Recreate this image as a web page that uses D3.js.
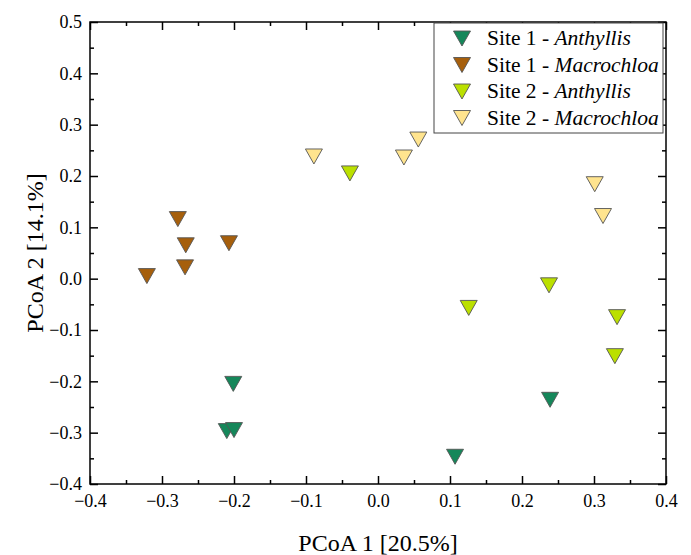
<!DOCTYPE html>
<html><head><meta charset="utf-8">
<script src="https://cdn.jsdelivr.net/npm/d3@7"></script>
<style>html,body{margin:0;padding:0;background:#fff;}svg{display:block;}</style>
</head><body>
<svg id="chart" width="691" height="555"></svg>
<script>
const groups = ["Site 1 - |Anthyllis", "Site 1 - |Macrochloa", "Site 2 - |Anthyllis", "Site 2 - |Macrochloa"];
const colors = ["#15875a", "#a65f0c", "#bbe000", "#ffe48e"];
const site1AnthyllisX = [-0.201, -0.210, -0.200, 0.107, 0.239];
const site1AnthyllisY = [-0.204, -0.296, -0.294, -0.346, -0.235];
const site1MacrochloaX = [-0.321, -0.278, -0.267, -0.268, -0.207];
const site1MacrochloaY = [0.006, 0.117, 0.066, 0.023, 0.070];
const site2AnthyllisX = [-0.039, 0.126, 0.2375, 0.332, 0.329];
const site2AnthyllisY = [0.206, -0.056, -0.012, -0.074, -0.150];
const site2MacrochloaX = [-0.089, 0.036, 0.056, 0.301, 0.3125];
const site2MacrochloaY = [0.239, 0.237, 0.272, 0.185, 0.123];
const xTicks = [-0.4, -0.3, -0.2, -0.1, 0.0, 0.1, 0.2, 0.3, 0.4];
const yTicks = [-0.4, -0.3, -0.2, -0.1, 0.0, 0.1, 0.2, 0.3, 0.4, 0.5];
const xTitle = "PCoA 1 [20.5%]";
const yTitle = "PCoA 2 [14.1%]";

const seriesX = [site1AnthyllisX, site1MacrochloaX, site2AnthyllisX, site2MacrochloaX];
const seriesY = [site1AnthyllisY, site1MacrochloaY, site2AnthyllisY, site2MacrochloaY];

const L = 90, R = 666, T = 22, B = 484;
const svg = d3.select("#chart");
const x = d3.scaleLinear().domain([-0.4, 0.4]).range([L, R]);
const y = d3.scaleLinear().domain([-0.4, 0.5]).range([B, T]);
const font = "'Liberation Serif','Times New Roman',serif";

const minorX = d3.range(-0.35, 0.4, 0.1);
const minorY = d3.range(-0.35, 0.5, 0.1);

function styleAxis(g){
  g.select(".domain").remove();
  g.selectAll(".tick line").attr("stroke", "#000").attr("stroke-width", 1.5);
  g.selectAll("text").attr("font-family", font).attr("font-size", 18).attr("fill", "#000");
}
// bottom
svg.append("g").attr("transform", `translate(0,${B})`)
  .call(d3.axisBottom(x).tickValues(xTicks).tickSize(-8).tickPadding(10).tickFormat(d3.format(".1f")))
  .call(styleAxis);
svg.append("g").attr("transform", `translate(0,${B})`)
  .call(d3.axisBottom(x).tickValues(minorX).tickSize(-4).tickFormat(""))
  .call(styleAxis);
// top
svg.append("g").attr("transform", `translate(0,${T})`)
  .call(d3.axisTop(x).tickValues(xTicks).tickSize(-8).tickFormat(""))
  .call(styleAxis);
svg.append("g").attr("transform", `translate(0,${T})`)
  .call(d3.axisTop(x).tickValues(minorX).tickSize(-4).tickFormat(""))
  .call(styleAxis);
// left
svg.append("g").attr("transform", `translate(${L},0)`)
  .call(d3.axisLeft(y).tickValues(yTicks).tickSize(-8).tickPadding(8).tickFormat(d3.format(".1f")))
  .call(styleAxis);
svg.append("g").attr("transform", `translate(${L},0)`)
  .call(d3.axisLeft(y).tickValues(minorY).tickSize(-4).tickFormat(""))
  .call(styleAxis);
// right
svg.append("g").attr("transform", `translate(${R},0)`)
  .call(d3.axisRight(y).tickValues(yTicks).tickSize(-8).tickFormat(""))
  .call(styleAxis);
svg.append("g").attr("transform", `translate(${R},0)`)
  .call(d3.axisRight(y).tickValues(minorY).tickSize(-4).tickFormat(""))
  .call(styleAxis);

// frame
svg.append("rect").attr("x", L).attr("y", T).attr("width", R - L).attr("height", B - T)
  .attr("fill", "none").attr("stroke", "#000").attr("stroke-width", 1.5);

const tri = "M-8.5,-7L8.5,-7L0,8Z";

// points
seriesX.forEach((xs, i) => {
  const ys = seriesY[i];
  svg.append("g").selectAll("path").data(xs.map((v, j) => [v, ys[j]])).join("path")
    .attr("d", tri)
    .attr("transform", d => `translate(${x(d[0])},${y(d[1])})`)
    .attr("fill", colors[i]).attr("stroke", "#555").attr("stroke-width", 0.9);
});

// legend
const lg = svg.append("g");
lg.append("rect").attr("x", 434).attr("y", 23).attr("width", 229).attr("height", 110)
  .attr("fill", "#fff").attr("stroke", "#444").attr("stroke-width", 1);
groups.forEach((g, i) => {
  const cy = 38 + i * 26.5;
  lg.append("path").attr("d", tri).attr("transform", `translate(462,${cy})`)
    .attr("fill", colors[i]).attr("stroke", "#555").attr("stroke-width", 0.9);
  const parts = g.split("|");
  const t = lg.append("text").attr("x", 487).attr("y", cy + 7)
    .attr("font-family", font).attr("font-size", 21.5).attr("fill", "#000");
  t.append("tspan").text(parts[0]);
  t.append("tspan").attr("font-style", "italic").text(parts[1]);
});

// titles
svg.append("text").attr("x", (L + R) / 2).attr("y", 551).attr("text-anchor", "middle")
  .attr("font-family", font).attr("font-size", 24).text(xTitle);
svg.append("text").attr("transform", `translate(43,${(T + B) / 2}) rotate(-90)`)
  .attr("text-anchor", "middle")
  .attr("font-family", font).attr("font-size", 24).text(yTitle);
</script>
</body></html>
